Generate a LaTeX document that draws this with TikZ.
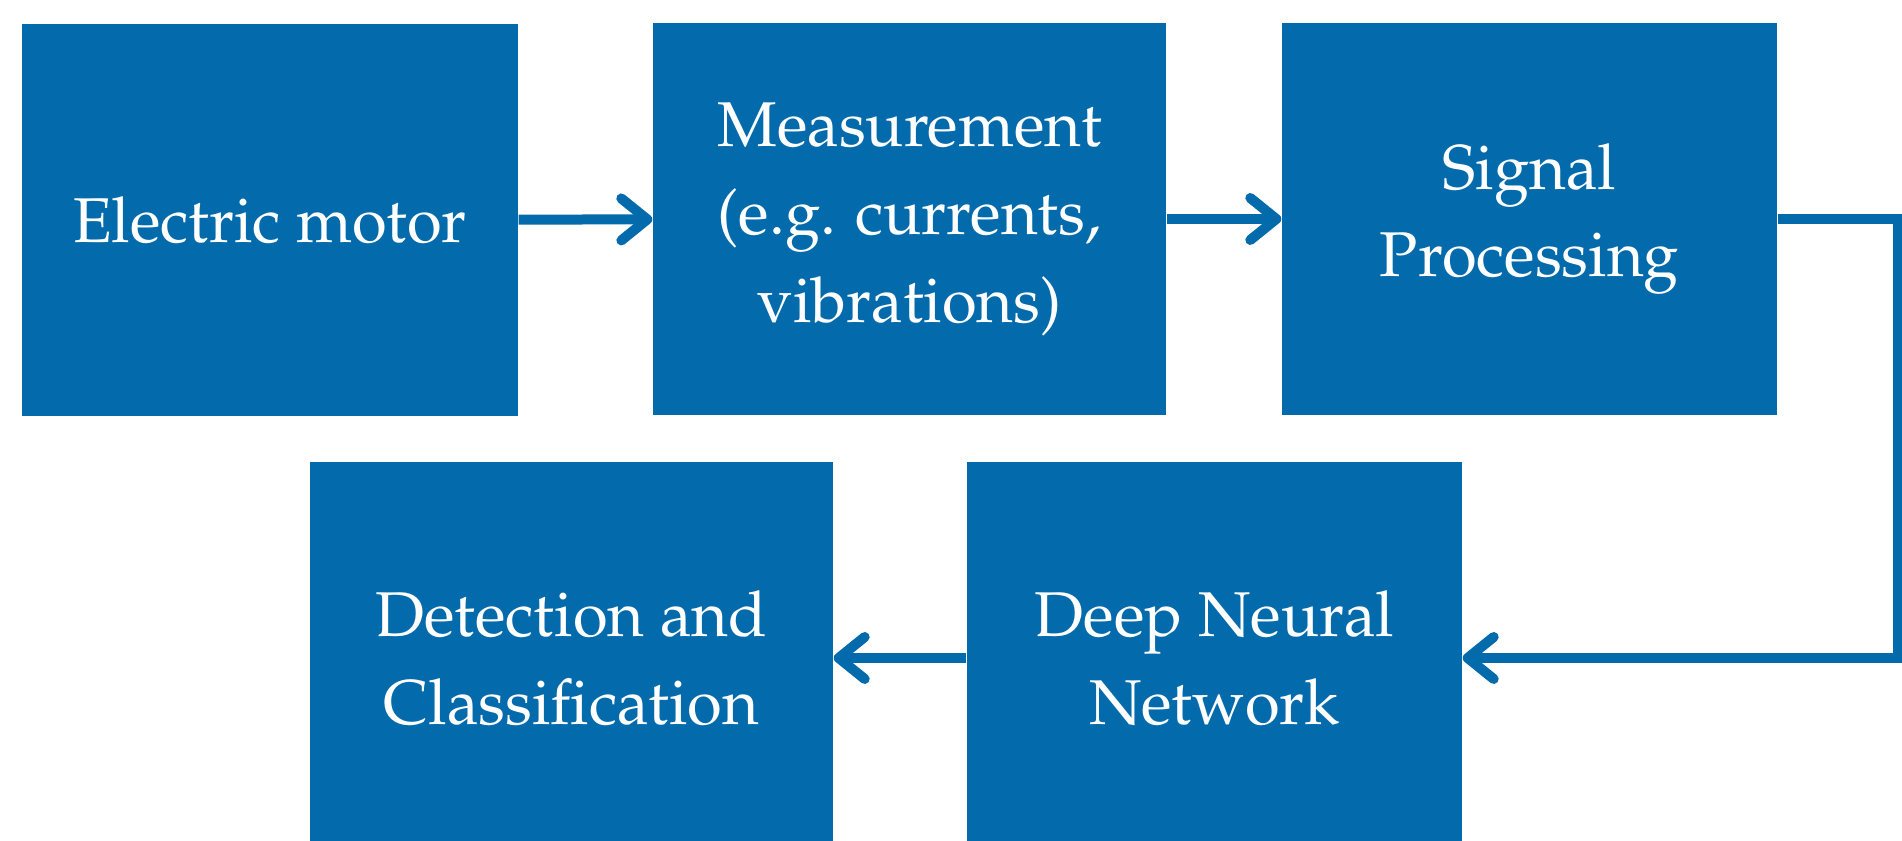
\documentclass[tikz,border=0pt]{standalone}
\usepackage[T1]{fontenc}
\usepackage{mathpazo}
\usetikzlibrary{positioning,arrows.meta}
\definecolor{boxblue}{RGB}{3,107,172}
\tikzset{
  block/.style={fill=boxblue, text=white, align=center, inner sep=4pt,
                minimum height=3.92cm, font=\fontsize{18}{25}\selectfont},
  flow/.style={-{Straight Barb[length=2.6mm, width=4.2mm, round]},
               draw=boxblue, line width=1mm},
}
\begin{document}
\begin{tikzpicture}
  \useasboundingbox (0,0) rectangle (19.02,-8.41);

  %% top row, left to right
  \node[block, minimum width=4.96cm] (motor) at (2.70,-2.20) {Electric motor};
  \node[block, minimum width=5.13cm] (meas) at (9.095,-2.19) {Measurement\\
    (e.g. currents,\\ vibrations)};
  \node[block, minimum width=4.95cm] (sig) at (15.295,-2.19) {Signal\\ Processing};

  %% bottom row, right to left
  \node[block, minimum width=4.95cm] (dnn) at (12.145,-6.58) {Deep Neural\\ Network};
  \node[block, minimum width=5.23cm] (det) at (5.715,-6.58) {Detection and\\
    Classification};

  \coordinate (turn) at (18.98,-4.40);

  \draw[flow] (motor) -- (meas);
  \draw[flow] (meas) -- (sig);
  \draw[flow, line join=miter] (sig.east) -| (turn) |- (dnn.east);
  \draw[flow] (dnn) -- (det);
\end{tikzpicture}
\end{document}
